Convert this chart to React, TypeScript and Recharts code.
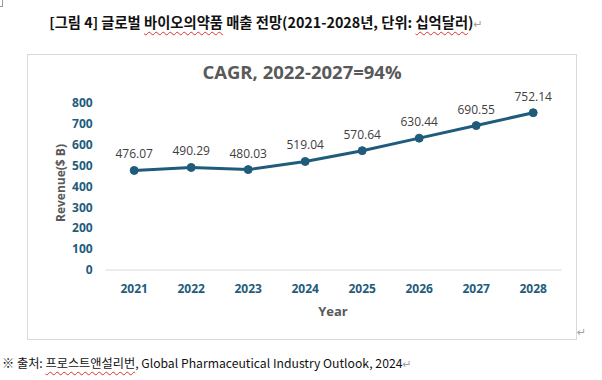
import React from "react";
import { LineChart, Line, XAxis, YAxis, LabelList } from "recharts";

const years = ["2021", "2022", "2023", "2024", "2025", "2026", "2027", "2028"];
const revenue = [476.07, 490.29, 480.03, 519.04, 570.64, 630.44, 690.55, 752.14];
const yTicks = [0, 100, 200, 300, 400, 500, 600, 700, 800];

const data = years.map((y, i) => ({ year: y, value: revenue[i] }));

const BLUE = "#1f5c7c";
const NUM_FONT = "'Open Sans', 'Noto Sans', sans-serif";
const KR_FONT = "'Noto Sans CJK KR', 'Noto Sans', sans-serif";
const squiggle: React.CSSProperties = {
  textDecorationLine: "underline",
  textDecorationStyle: "wavy",
  textDecorationColor: "#e03030",
  textDecorationThickness: "1px",
  textUnderlineOffset: "3px",
};
const ret: React.CSSProperties = { color: "#a0a0a0", fontWeight: 400, fontSize: 11, fontFamily: "'DejaVu Sans', sans-serif" };

export default function App() {
  return (
    <div style={{ position: "absolute", left: 0, top: 0, width: 602, height: 380, background: "#fff", overflow: "hidden" }}>
      {/* corner mark */}
      <div style={{ position: "absolute", left: 0, top: 0, width: 2, height: 6, borderRight: "1px solid #9a9a9a", borderBottom: "1px solid #9a9a9a" }} />
      {/* title */}
      <div style={{ position: "absolute", left: 0, top: 12, width: 532, textAlign: "center", fontFamily: KR_FONT, fontWeight: 700, fontSize: 14.3, color: "#111", whiteSpace: "nowrap", lineHeight: "20px" }}>
        [그림 4] 글로벌 <span style={squiggle}>바이오의약품</span> 매출 전망(2021-2028년, 단위: <span style={squiggle}>십억달러</span>)<span style={ret}>↵</span>
      </div>
      {/* chart frame */}
      <div style={{ position: "absolute", left: 27, top: 54, width: 548, height: 284, border: "1px solid #d9d9d9" }} />
      <div style={{ position: "absolute", left: 577, top: 326, ...ret }}>↵</div>
      {/* CAGR */}
      <div style={{ position: "absolute", left: 0, top: 59, width: 604, textAlign: "center", fontFamily: NUM_FONT, fontWeight: 700, fontSize: 18.5, color: "#595959", lineHeight: "26px" }}>
        CAGR, 2022-2027=94%
      </div>
      <div style={{ position: "absolute", left: 0, top: 0 }}>
        <LineChart width={602} height={380} data={data} margin={{ top: 102.7, right: 40.3, bottom: 80, left: 45.7 }}>
          <XAxis
            dataKey="year"
            height={30}
            padding={{ left: 28.5, right: 28.5 }}
            axisLine={{ stroke: "#d9d9d9", strokeWidth: 1 }}
            tickLine={false}
            tickMargin={8}
            tick={{ fill: BLUE, fontSize: 12, fontWeight: 700, fontFamily: NUM_FONT }}
            interval={0}
          />
          <YAxis
            width={60}
            domain={[0, 800]}
            ticks={yTicks}
            axisLine={false}
            tickLine={false}
            tickMargin={7}
            tick={{ fill: BLUE, fontSize: 12, fontWeight: 700, fontFamily: NUM_FONT }}
          />
          <Line
            dataKey="value"
            stroke={BLUE}
            strokeWidth={3}
            isAnimationActive={false}
            dot={{ r: 4, fill: BLUE, stroke: BLUE, strokeWidth: 1 }}
            activeDot={false}
          >
            <LabelList
              dataKey="value"
              position="top"
              offset={12}
              formatter={(v: number) => v.toFixed(2)}
              style={{ fill: "#404040", fontSize: 12, fontFamily: NUM_FONT }}
            />
          </Line>
        </LineChart>
      </div>
      {/* axis titles */}
      <div style={{ position: "absolute", left: 283, top: 302, width: 100, textAlign: "center", fontFamily: NUM_FONT, fontWeight: 700, fontSize: 13, color: "#595959", lineHeight: "18px" }}>
        Year
      </div>
      <div style={{ position: "absolute", left: 11, top: 174, width: 100, textAlign: "center", fontFamily: NUM_FONT, fontWeight: 700, fontSize: 12, color: "#595959", lineHeight: "18px", transform: "rotate(-90deg)", transformOrigin: "50% 50%", whiteSpace: "nowrap" }}>
        Revenue($ B)
      </div>
      {/* footer */}
      <div style={{ position: "absolute", left: 2, top: 353, fontFamily: KR_FONT, fontSize: 12.2, color: "#111", whiteSpace: "nowrap", lineHeight: "20px" }}>
        ※ 출처: <span style={squiggle}>프로스트앤설리번</span>, Global Pharmaceutical Industry Outlook, 2024<span style={ret}>↵</span>
      </div>
    </div>
  );
}
